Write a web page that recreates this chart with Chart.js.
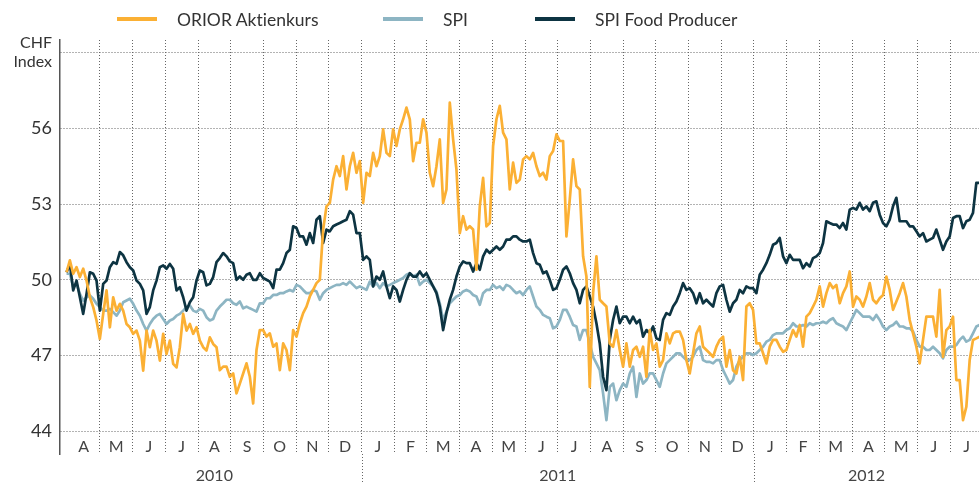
<!DOCTYPE html>
<html>
<head>
<meta charset="utf-8">
<script src="https://cdn.jsdelivr.net/npm/chart.js@4.4.1/dist/chart.umd.min.js"></script>
<style>
  html, body { margin: 0; padding: 0; background: #fff; }
  .wrap { position: relative; width: 979px; height: 484px; }
  .legend { position: absolute; top: 0; left: 0; width: 979px; height: 38px; font-family: Lato, sans-serif; font-size: 17.5px; color: #333; font-variant-ligatures: none; }
  .legend .item { position: absolute; top: 8px; height: 22px; display: flex; align-items: center; white-space: nowrap; }
  .legend .swatch { width: 40px; height: 4px; margin-right: 20px; }
</style>
</head>
<body>
<div class="wrap">
  <div class="legend" id="legend"></div>
  <canvas id="indexChart"></canvas>
</div>
<script>
// months counted from 1 April 2010; one reading roughly every 3 days
const SAMPLE_START = -0.02;
const SAMPLE_STEP = 0.1019;

const oriorValues = [
  // Apr - Aug 2010
  50.30, 50.77, 50.24, 50.50, 50.11, 50.44, 49.97, 49.31, 48.92, 48.39, 47.66, 48.65, 49.58, 48.12, 49.31, 48.78,
  49.05, 48.78, 48.25, 48.12, 47.86, 47.99, 47.59, 46.40, 47.99, 47.33, 47.99, 47.59, 46.80, 47.86, 47.06, 47.59,
  46.67, 46.53, 47.33, 48.65, 47.99, 48.25, 47.86, 48.12, 47.59, 47.33, 47.20, 47.72, 47.46, 47.33,
  // Aug - Dec 2010
  46.42, 46.56, 46.56, 46.16, 46.29, 45.50, 45.89, 46.29, 46.69, 46.16, 45.10, 47.22, 48.01, 48.01, 47.75, 47.88,
  47.35, 47.48, 46.42, 47.48, 47.22, 46.42, 48.01, 47.75, 48.28, 48.68, 48.94, 49.34, 49.60, 49.87, 50.00, 51.99,
  52.91, 53.05, 53.97, 54.50, 54.11, 54.90, 53.58, 54.50, 55.03, 54.24,
  // Jan - May 2011
  54.70, 53.05, 54.24, 54.11, 55.03, 54.50, 54.90, 55.96, 55.03, 54.90, 55.96, 55.30, 55.96, 56.36, 56.82, 56.36,
  54.70, 55.43, 55.43, 56.36, 55.83, 54.24, 53.71, 54.50, 55.56, 53.05, 53.58, 57.02, 55.56, 54.37, 51.85, 52.52,
  51.99, 52.12, 51.99, 50.40, 52.91, 54.04, 52.12, 52.25, 55.30, 56.36, 56.89, 55.83, 55.56,
  // May - Sep 2011
  53.58, 54.64, 53.84, 53.97, 54.77, 54.90, 54.77, 55.03, 54.50, 54.11, 54.24, 53.97, 54.90, 55.10, 55.76, 55.50,
  55.50, 51.72, 53.18, 54.77, 53.71, 53.58, 50.93, 50.13, 45.76, 49.47, 50.93, 49.21, 49.07, 48.94, 47.48, 47.35,
  48.01, 47.22, 46.56, 47.48, 46.56, 47.22, 47.35, 46.95, 47.35, 46.16, 48.01, 47.22, 47.48,
  // Oct 2011 - Feb 2012
  46.56, 46.82, 47.88, 47.48, 47.88, 47.95, 47.95, 47.62, 46.82, 46.29, 47.09, 47.88, 48.15, 47.35, 47.22, 47.09,
  46.95, 47.35, 47.62, 47.75, 46.56, 47.22, 46.42, 46.29, 46.95, 46.03, 48.94, 49.07, 48.81, 47.48, 47.48, 47.09,
  46.69, 47.35, 47.62, 47.62, 47.35, 47.15, 47.22, 47.62, 48.01, 47.75, 48.21, 47.35, 48.54,
  // Feb - Jul 2012
  48.68, 48.94, 49.21, 49.74, 48.94, 49.47, 49.87, 49.67, 49.80, 49.07, 49.47, 49.74, 50.33, 48.94, 49.34, 49.21,
  48.94, 49.34, 49.87, 49.21, 49.07, 49.27, 49.40, 50.13, 49.60, 48.81, 49.14, 49.47, 49.87, 49.34, 48.41, 47.88,
  47.35, 46.69, 47.62, 48.54, 48.54, 48.54, 47.75, 49.60, 46.95, 48.01, 48.15, 48.54, 46.03, 46.03, 44.44, 44.97,
  46.82, 47.62, 47.68, 47.75
];

const spiValues = [
  50.24, 50.24, 49.71, 49.84, 49.44, 49.18, 49.31, 49.38, 49.25, 49.05, 48.92, 48.78, 48.78, 48.85, 48.72, 48.58,
  48.78, 49.11, 49.18, 49.25, 49.05, 48.78, 48.58, 48.25, 47.99, 48.25, 48.45, 48.58, 48.65, 48.45, 48.25, 48.39,
  48.45, 48.58, 48.65, 48.78, 48.92, 48.98, 48.78, 48.72, 48.85, 48.78, 48.52, 48.39, 48.45, 48.78,
  48.94, 49.07, 49.21, 49.21, 49.07, 49.01, 49.14, 48.87, 48.94, 48.87, 48.81, 48.74, 49.07, 49.07, 49.27, 49.27,
  49.40, 49.40, 49.47, 49.47, 49.54, 49.60, 49.54, 49.80, 49.74, 49.60, 49.47, 49.47, 49.60, 49.54, 49.21, 49.47,
  49.60, 49.67, 49.74, 49.80, 49.80, 49.87, 49.80, 49.93, 49.80, 49.67,
  49.74, 49.67, 49.60, 49.93, 49.74, 49.87, 49.67, 49.87, 49.74, 49.80, 49.87, 49.93, 50.00, 50.07, 50.20, 50.26,
  50.13, 50.20, 49.80, 49.93, 50.00, 49.87, 49.74, 49.54, 49.07, 48.41, 48.74, 49.07, 49.21, 49.34, 49.40, 49.54,
  49.60, 49.54, 49.40, 49.34, 49.01, 49.47, 49.60, 49.60, 49.80, 49.67, 49.74, 49.60, 49.80,
  49.74, 49.60, 49.47, 49.54, 49.40, 49.60, 49.74, 49.34, 48.94, 48.81, 48.61, 48.54, 48.48, 48.08, 48.15, 48.41,
  48.81, 48.81, 48.54, 48.21, 48.15, 47.62, 48.01, 48.01, 47.48, 46.95, 46.69, 46.42, 45.50, 44.44, 45.76, 45.89,
  45.23, 45.63, 45.89, 45.76, 46.29, 46.56, 45.36, 46.29, 45.89, 46.03, 46.29, 46.29, 46.03,
  45.76, 46.29, 46.69, 46.82, 46.95, 47.09, 47.09, 46.95, 46.82, 46.82, 46.95, 47.22, 47.35, 46.82, 46.75, 46.75,
  46.69, 46.82, 46.82, 46.42, 46.16, 45.89, 46.03, 46.56, 46.82, 46.95, 47.09, 47.09, 47.02, 47.09, 47.22, 47.35,
  47.55, 47.62, 47.81, 47.88, 47.88, 47.88, 48.01, 48.08, 48.28, 48.15, 48.15, 48.21, 48.15,
  48.28, 48.21, 48.28, 48.28, 48.34, 48.28, 48.41, 48.48, 48.28, 48.21, 48.15, 48.01, 48.28, 48.54, 48.81, 48.68,
  48.54, 48.54, 48.54, 48.41, 48.61, 48.41, 48.15, 48.01, 48.15, 48.21, 48.34, 48.15, 48.15, 48.08, 48.08, 47.95,
  47.62, 47.35, 47.35, 47.22, 47.22, 47.35, 47.22, 47.09, 46.89, 47.22, 47.35, 47.35, 47.42, 47.62, 47.75, 47.55,
  47.62, 47.88, 48.15, 48.21
];

const foodValues = [
  50.30, 50.63, 49.58, 49.97, 49.31, 48.65, 49.44, 50.30, 50.24, 49.97, 48.78, 49.84, 49.97, 50.50, 50.70, 50.63,
  51.10, 50.97, 50.70, 50.50, 50.37, 49.97, 49.84, 49.58, 48.65, 48.92, 49.58, 49.97, 50.50, 50.57, 50.44, 50.63,
  50.44, 49.58, 49.71, 49.31, 48.78, 49.11, 49.31, 49.97, 50.37, 50.30, 49.78, 49.84, 50.11, 50.70,
  50.86, 51.06, 50.93, 50.73, 50.66, 50.00, 50.13, 50.00, 50.20, 50.26, 50.00, 50.00, 50.26, 50.07, 50.00, 49.93,
  49.67, 50.40, 50.40, 50.66, 51.06, 51.19, 52.12, 52.05, 51.72, 51.72, 51.39, 51.85, 51.46, 52.38, 52.52, 51.46,
  51.99, 51.92, 52.12, 52.19, 52.25, 52.32, 52.38, 52.72, 52.58, 51.85,
  51.85, 50.79, 50.93, 50.79, 49.74, 50.13, 50.00, 50.33, 49.74, 49.27, 49.74, 49.60, 49.14, 49.60, 50.00, 50.26,
  50.13, 50.13, 50.33, 50.13, 50.26, 50.00, 49.74, 49.47, 48.94, 48.01, 48.68, 49.21, 49.60, 50.13, 50.53, 50.73,
  50.66, 50.66, 50.33, 50.66, 50.40, 50.93, 51.19, 51.06, 51.19, 51.32, 51.19, 51.32, 51.59,
  51.59, 51.72, 51.72, 51.59, 51.52, 51.52, 51.59, 51.06, 50.66, 50.60, 50.26, 50.33, 50.00, 49.60, 49.67, 50.00,
  50.40, 50.53, 50.26, 49.87, 49.60, 49.07, 49.60, 49.74, 49.34, 48.94, 48.28, 47.48, 46.16, 45.63, 47.62, 48.41,
  48.94, 48.28, 48.54, 48.54, 48.28, 48.54, 48.28, 48.41, 47.75, 48.01, 47.88, 48.15, 47.68,
  47.62, 48.41, 48.68, 48.61, 48.94, 49.14, 49.47, 49.87, 49.60, 49.67, 49.47, 49.07, 49.47, 49.07, 49.21, 49.07,
  48.94, 49.47, 49.74, 49.80, 49.21, 48.74, 49.07, 49.21, 49.60, 49.47, 49.74, 49.67, 49.67, 49.47, 50.20, 50.40,
  50.66, 50.99, 51.39, 51.46, 51.66, 50.93, 50.66, 50.99, 50.79, 50.79, 50.79, 50.46, 50.66,
  50.53, 50.86, 50.93, 51.06, 51.46, 52.32, 52.25, 52.19, 52.19, 52.05, 52.25, 51.99, 52.78, 52.85, 52.78, 53.05,
  52.78, 52.91, 52.72, 53.05, 53.11, 52.58, 52.25, 52.12, 52.38, 52.91, 53.25, 52.32, 52.32, 52.32, 52.12, 52.12,
  51.92, 51.72, 51.85, 51.52, 51.59, 51.66, 51.99, 51.59, 51.19, 51.52, 51.72, 52.45, 52.52, 52.52, 52.05, 52.32,
  52.38, 52.65, 53.84, 53.84
];

const monthLetters = ["A", "M", "J", "J", "A", "S", "O", "N", "D",
  "J", "F", "M", "A", "M", "J", "J", "A", "S", "O", "N", "D",
  "J", "F", "M", "A", "M", "J", "J"];
const yearLabels = ["2010", "2011", "2012"];
const yearStarts = [0, 9, 21]; // month index where each year's block begins
const yTicks = [44, 47, 50, 53, 56, 59];

const X_MIN = -0.22, X_MAX = 27.88;
const Y_MIN = 43.1, Y_MAX = 59.5;

const seriesNames = ["ORIOR Aktienkurs", "SPI", "SPI Food Producer"];
const seriesColors = ["#fbb034", "#8db5c3", "#0d3442"];

const sampleMonths = oriorValues.map((_, i) => SAMPLE_START + i * SAMPLE_STEP);
const toPoints = (vals) => vals.map((v, i) => ({ x: sampleMonths[i], y: v }));

// html legend
const legend = document.getElementById("legend");
const legendLeft = [117, 383, 535];
seriesNames.forEach((name, i) => {
  const item = document.createElement("div");
  item.className = "item";
  item.style.left = legendLeft[i] + "px";
  item.innerHTML = `<span class="swatch" style="background:${seriesColors[i]}"></span><span>${name}</span>`;
  legend.appendChild(item);
});

// month letters, year labels and the long year separators
const timeAxisLabels = {
  id: "timeAxisLabels",
  afterDraw(chart) {
    const { ctx, chartArea, scales: { x } } = chart;
    ctx.save();
    ctx.fillStyle = "#444";
    ctx.textAlign = "center";
    ctx.textBaseline = "middle";
    ctx.font = "16px Lato";
    monthLetters.forEach((m, i) => {
      ctx.fillText(m, x.getPixelForValue(i + 0.5), chartArea.bottom - 7);
    });
    yearLabels.forEach((y, i) => {
      const end = i + 1 < yearStarts.length ? yearStarts[i + 1] : X_MAX;
      ctx.fillText(y, x.getPixelForValue((yearStarts[i] + end) / 2), chartArea.bottom + 22);
    });
    ctx.strokeStyle = "#666";
    ctx.lineWidth = 1;
    ctx.setLineDash([1, 2]);
    yearStarts.slice(1).forEach((m) => {
      const px = Math.round(x.getPixelForValue(m)) + 0.5;
      ctx.beginPath();
      ctx.moveTo(px, chartArea.bottom);
      ctx.lineTo(px, chart.height);
      ctx.stroke();
    });
    ctx.restore();
  }
};

const ctx = document.getElementById("indexChart").getContext("2d");
const indexChart = new Chart(ctx, {
  type: "line",
  data: {
    datasets: [
      { label: seriesNames[0], data: toPoints(oriorValues), borderColor: seriesColors[0], order: 1 },
      { label: seriesNames[1], data: toPoints(spiValues), borderColor: seriesColors[1], order: 3 },
      { label: seriesNames[2], data: toPoints(foodValues), borderColor: seriesColors[2], order: 2 },
    ],
  },
  options: {
    responsive: true,
    maintainAspectRatio: false,
    animation: false,
    devicePixelRatio: 1,
    layout: { padding: { top: 40, bottom: 30, left: 0, right: 0 } },
    elements: {
      point: { radius: 0 },
      line: { borderWidth: 2.7, tension: 0, borderJoinStyle: "round", fill: false },
    },
    plugins: { legend: { display: false }, tooltip: { enabled: false } },
    scales: {
      x: {
        type: "linear",
        min: X_MIN,
        max: X_MAX,
        afterBuildTicks: (scale) => {
          scale.ticks = monthLetters.slice(1).map((_, i) => ({ value: i + 1 }));
        },
        afterFit: (scale) => { scale.height = 0; },
        ticks: { display: false },
        grid: { color: "#666", lineWidth: 1, drawTicks: false },
        border: { display: false, dash: [1, 2] },
      },
      y: {
        min: Y_MIN,
        max: Y_MAX,
        afterBuildTicks: (scale) => {
          scale.ticks = yTicks.map((v) => ({ value: v }));
        },
        afterFit: (scale) => { scale.width = 60; },
        ticks: {
          padding: 8,
          color: "#333",
          callback: (value) => (value === 59 ? ["CHF", "Index"] : value),
          font: (c) => (c.tick && c.tick.value === 59
            ? { family: "Lato", size: 16, lineHeight: 1.2 }
            : { family: "Lato", size: 18 }),
        },
        grid: { color: "#666", lineWidth: 1, drawTicks: false },
        border: { display: true, color: "#555", width: 1.5, dash: [1, 2] },
      },
    },
  },
  plugins: [timeAxisLabels],
});
</script>
</body>
</html>
